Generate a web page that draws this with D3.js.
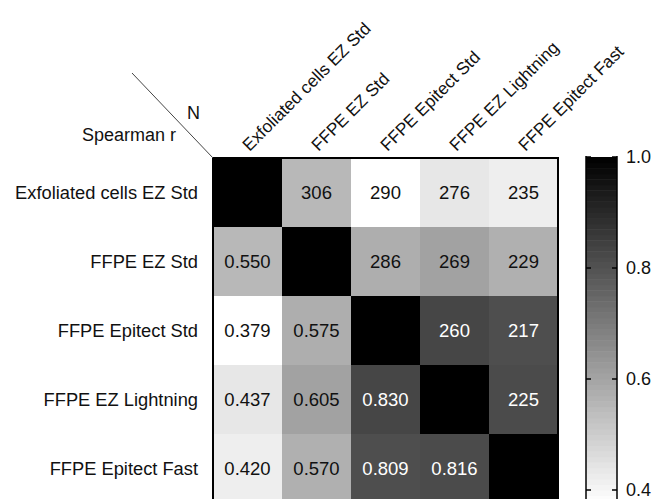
<!DOCTYPE html>
<html>
<head>
<meta charset="utf-8">
<script src="https://cdn.jsdelivr.net/npm/d3@7"></script>
<style>
  body { margin: 0; background: #fff; }
  svg { display: block; font-family: "Liberation Sans", Arial, sans-serif; }
</style>
</head>
<body>
<svg id="chart" width="655" height="499"></svg>
<script>
// sample names (rows and columns share the same order)
const samples = ['Exfoliated cells EZ Std', 'FFPE EZ Std', 'FFPE Epitect Std', 'FFPE EZ Lightning', 'FFPE Epitect Fast'];

// lower triangle: Spearman r, row i holds columns 0..i-1
const spearmanR = [
    [],
    [0.550],
    [0.379, 0.575],
    [0.437, 0.605, 0.830],
    [0.420, 0.570, 0.809, 0.816]
];

// upper triangle: N, row i holds columns i+1..4
const pairCounts = [
    [306, 290, 276, 235],
    [286, 269, 229],
    [260, 217],
    [225],
    []
];

const colorTicks = [0.4, 0.6, 0.8, 1.0];

const margin = {top: 158, left: 213};
const cell = 69;

const svg = d3.select('#chart');

// build cell list, upper cells take the colour of their mirrored r
let cells = [];
samples.forEach((rowName, i) => {
    samples.forEach((colName, j) => {
        let r, label;
        if (i === j) {
            r = 1; label = '';
        } else if (j < i) {
            r = spearmanR[i][j]; label = d3.format('.3f')(r);
        } else {
            r = spearmanR[j][i]; label = pairCounts[i][j - i - 1];
        }
        cells.push({row: rowName, col: colName, r, label});
    });
});

const xScale = d3.scaleBand()
    .domain(samples)
    .range([margin.left, margin.left + cell * samples.length]);

const yScale = d3.scaleBand()
    .domain(samples)
    .range([margin.top, margin.top + cell * samples.length]);

const colorScale = d3.scaleLinear()
    .domain([0.378, 1.0])
    .range(['#ffffff', '#000000'])
    .clamp(true);

// heatmap cells
svg.selectAll('.cell')
    .data(cells)
    .join('rect')
    .attr('class', 'cell')
    .attr('x', d => xScale(d.col))
    .attr('y', d => yScale(d.row))
    .attr('width', xScale.bandwidth())
    .attr('height', yScale.bandwidth())
    .attr('fill', d => colorScale(d.r));

svg.selectAll('.cell-label')
    .data(cells.filter(d => d.label !== ''))
    .join('text')
    .attr('class', 'cell-label')
    .attr('x', d => xScale(d.col) + xScale.bandwidth() / 2)
    .attr('y', d => yScale(d.row) + yScale.bandwidth() / 2)
    .attr('dy', '0.35em')
    .attr('text-anchor', 'middle')
    .style('font-size', '18.5px')
    .attr('fill', d => d.r > 0.7 ? '#ffffff' : '#111')
    .text(d => d.label);

// frame round the grid
svg.append('rect')
    .attr('x', xScale.range()[0])
    .attr('y', yScale.range()[0])
    .attr('width', xScale.range()[1] - xScale.range()[0])
    .attr('height', yScale.range()[1] - yScale.range()[0])
    .attr('fill', 'none')
    .attr('stroke', '#000')
    .attr('stroke-width', 2);

// row labels
svg.selectAll('.row-label')
    .data(samples)
    .join('text')
    .attr('class', 'row-label')
    .attr('x', margin.left - 15)
    .attr('y', d => yScale(d) + yScale.bandwidth() / 2)
    .attr('dy', '0.35em')
    .attr('text-anchor', 'end')
    .style('font-size', '18.3px')
    .attr('fill', '#111')
    .text(d => d);

// column labels, rotated
svg.selectAll('.col-label')
    .data(samples)
    .join('text')
    .attr('class', 'col-label')
    .attr('transform', d => `translate(${xScale(d) + xScale.bandwidth() / 2 + 2},${margin.top - 6}) rotate(-45)`)
    .style('font-size', '17.3px')
    .attr('fill', '#111')
    .text(d => d);

// corner key
svg.append('line')
    .attr('x1', 132).attr('y1', 73)
    .attr('x2', margin.left).attr('y2', margin.top)
    .attr('stroke', '#444')
    .attr('stroke-width', 1);

svg.append('text')
    .attr('x', 187).attr('y', 119)
    .style('font-size', '18px')
    .attr('fill', '#111')
    .text('N');

svg.append('text')
    .attr('x', 82).attr('y', 141)
    .style('font-size', '18px')
    .attr('fill', '#111')
    .text('Spearman r');

// colour bar
const barX = 586, barW = 31;
const barScale = d3.scaleLinear()
    .domain([0.4, 1.0])
    .range([490, 157]);

const steps = d3.range(0.37, 1.0, 0.01);
svg.selectAll('.bar-step')
    .data(steps)
    .join('rect')
    .attr('class', 'bar-step')
    .attr('x', barX)
    .attr('y', d => barScale(d + 0.01))
    .attr('width', barW)
    .attr('height', d => barScale(d) - barScale(d + 0.01) + 0.5)
    .attr('fill', d => colorScale(d + 0.005));

[barX, barX + barW].forEach(x => {
    svg.append('line')
        .attr('x1', x).attr('x2', x)
        .attr('y1', barScale(1.0) - 1).attr('y2', 520)
        .attr('stroke', '#000')
        .attr('stroke-width', 1.5);
});

svg.selectAll('.tick-l')
    .data(colorTicks)
    .join('line')
    .attr('class', 'tick-l')
    .attr('x1', barX).attr('x2', barX + 5)
    .attr('y1', d => barScale(d)).attr('y2', d => barScale(d))
    .attr('stroke', '#000').attr('stroke-width', 1.5);

svg.selectAll('.tick-r')
    .data(colorTicks)
    .join('line')
    .attr('class', 'tick-r')
    .attr('x1', barX + barW - 5).attr('x2', barX + barW)
    .attr('y1', d => barScale(d)).attr('y2', d => barScale(d))
    .attr('stroke', '#000').attr('stroke-width', 1.5);

svg.selectAll('.tick-label')
    .data(colorTicks)
    .join('text')
    .attr('class', 'tick-label')
    .attr('x', barX + barW + 9)
    .attr('y', d => barScale(d))
    .attr('dy', '0.35em')
    .style('font-size', '18px')
    .attr('fill', '#111')
    .text(d => d3.format('.1f')(d));
</script>
</body>
</html>
